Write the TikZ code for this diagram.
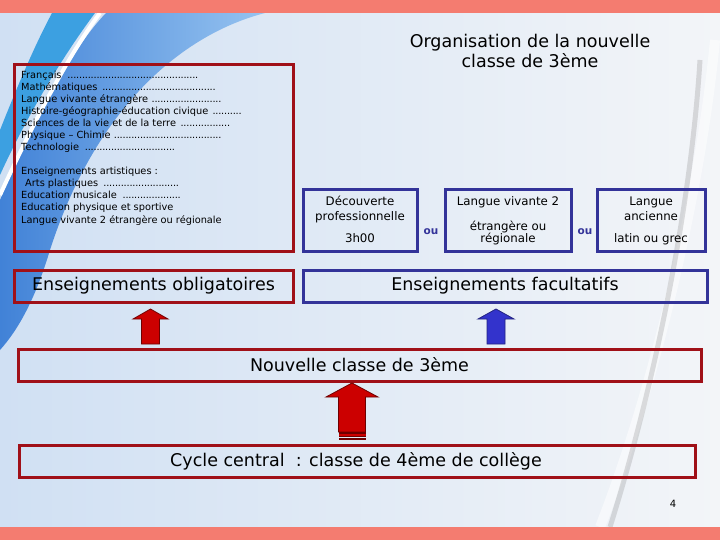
\documentclass[tikz,border=0pt]{standalone}
\usepackage{fontspec}
\setmainfont{DejaVu Sans}
\definecolor{band}{RGB}{244,124,112}
\definecolor{redb}{RGB}{160,16,24}
\definecolor{blueb}{RGB}{51,51,153}
\definecolor{redfill}{RGB}{204,0,0}
\definecolor{redline}{RGB}{110,0,0}
\definecolor{bluefill}{RGB}{51,51,204}
\definecolor{blueline}{RGB}{35,35,130}
\definecolor{bgA}{RGB}{208,224,243}
\definecolor{bgB}{RGB}{243,245,248}
\definecolor{swA}{RGB}{65,130,215}
\definecolor{swB}{RGB}{150,195,240}
\definecolor{cyanst}{RGB}{60,160,225}
\newcommand\dotline[2]{\makebox[#1pt][l]{#2\leaders\hbox to 2.9pt{\hss.\hss}\hfill}}
\newcommand\blockup[7]{\filldraw[#1] (#2,#3) -- (#2+#6,#4) -- (#2+#7,#4) -- (#2+#7,#5) -- (#2-#7,#5) -- (#2-#7,#4) -- (#2-#6,#4) -- cycle;}
\begin{document}
\begin{tikzpicture}[x=1pt,y=-1pt,
  redbox/.style={draw=redb, line width=3pt, inner sep=0pt},
  bluebox/.style={draw=blueb, line width=3pt, inner sep=0pt},
  listtxt/.style={anchor=base west, inner sep=0pt, font=\fontsize{9.8}{12}\selectfont},
  bigtxt/.style={inner sep=0pt, font=\fontsize{17.5}{21}\selectfont},
  midtxt/.style={anchor=base, inner sep=0pt, font=\fontsize{11.8}{14}\selectfont},
  outxt/.style={anchor=base, inner sep=0pt, text=blueb, font=\bfseries\fontsize{10.5}{12}\selectfont},
  redarrow/.style={fill=redfill, draw=redline, line width=0.8pt},
  bluearrow/.style={fill=bluefill, draw=blueline, line width=0.8pt}]
\useasboundingbox (0,0) rectangle (720,540);
% background
\shade[left color=bgA, right color=bgB] (0,13) rectangle (720,527);
\fill[cyanst] (52,13) -- (95,13) .. controls (60,60) and (25,120) .. (0,175) -- (0,130) .. controls (20,80) and (35,45) .. (52,13);
\shade[left color=swA, right color=swB] (106,13) -- (265,13) .. controls (180,35) and (95,110) .. (50,250) .. controls (35,300) and (18,330) .. (0,350) -- (0,200) .. controls (30,130) and (70,50) .. (106,13);
\draw[white, line width=4pt] (100,13) .. controls (65,60) and (30,130) .. (0,195);
\draw[white, opacity=0.5, line width=10pt] (715,40) .. controls (700,200) and (650,400) .. (600,527);
\draw[gray, opacity=0.25, line width=5pt] (700,60) .. controls (690,220) and (650,400) .. (610,527);
\fill[band] (0,0) rectangle (720,13);
\fill[band] (0,527) rectangle (720,540);
% title
\node[anchor=base, bigtxt] (title1) at (530,48) {Organisation de la nouvelle};
\node[anchor=base, bigtxt] (title2) at (530,68) {classe de 3ème};
% list box
\node[redbox, minimum width=279pt, minimum height=186pt] (listbox) at (153.5,158) {};
\node[listtxt] (l1) at (21,79) {\dotline{178}{Français }};
\node[listtxt] (l2) at (21,91) {\dotline{197}{Mathématiques }};
\node[listtxt] (l3) at (21,103) {\dotline{201}{Langue vivante étrangère }};
\node[listtxt] (l4) at (21,115) {\dotline{222}{Histoire-géographie-éducation civique }};
\node[listtxt] (l5) at (21,127) {\dotline{210}{Sciences de la vie et de la terre }};
\node[listtxt] (l6) at (21,139) {\dotline{201}{Physique – Chimie }};
\node[listtxt] (l7) at (21,151) {\dotline{156}{Technologie }};
\node[listtxt] (l8) at (21,175) {Enseignements artistiques :};
\node[listtxt] (l9) at (25,187) {\dotline{155}{Arts plastiques }};
\node[listtxt] (l10) at (21,199) {\dotline{161}{Education musicale }};
\node[listtxt] (l11) at (21,211) {Education physique et sportive};
\node[listtxt] (l12) at (21,223) {Langue vivante 2 étrangère ou régionale};
% option boxes
\node[bluebox, minimum width=114pt, minimum height=61pt] (opt1) at (360,220.5) {};
\node[bluebox, minimum width=126pt, minimum height=61pt] (opt2) at (508,220.5) {};
\node[bluebox, minimum width=108pt, minimum height=61pt] (opt3) at (651,220.5) {};
\node[midtxt] (o1a) at (360,206) {Découverte};
\node[midtxt] (o1b) at (360,221) {professionnelle};
\node[midtxt] (o1c) at (360,243) {3h00};
\node[midtxt] (o2a) at (508,206) {Langue vivante 2};
\node[midtxt] (o2b) at (508,230) {étrangère ou};
\node[midtxt] (o2c) at (508,243) {régionale};
\node[midtxt] (o3a) at (651,206) {Langue};
\node[midtxt] (o3b) at (651,221) {ancienne};
\node[midtxt] (o3c) at (651,243) {latin ou grec};
\node[outxt] (ou1) at (431,235) {ou};
\node[outxt] (ou2) at (585,235) {ou};
% category boxes
\node[redbox, minimum width=279pt, minimum height=32pt, bigtxt] (oblig) at (153.5,286) {Enseignements obligatoires};
\node[bluebox, minimum width=404pt, minimum height=32pt, bigtxt] (facult) at (505,286) {Enseignements facultatifs};
\node[redbox, minimum width=683pt, minimum height=32pt, bigtxt] (nouvelle) at (359.5,365) {Nouvelle classe de 3ème};
\node[redbox, minimum width=676pt, minimum height=32pt] (cycle) at (357,461) {};
\node[anchor=base, bigtxt] (cycletxt) at (356,466) {Cycle central \ : classe de 4ème de collège};
% arrows
\blockup{redarrow}{150.5}{309}{319}{344}{17.5}{9}
\blockup{bluearrow}{496}{309}{319}{344}{18}{9}
\blockup{redarrow}{352}{383}{397}{432}{26}{13.5}
\fill[redline] (338.5,432) rectangle (365.5,434);
\fill[redfill] (338.5,434) rectangle (365.5,435.7);
\fill[redline] (338.5,435.7) rectangle (365.5,436.8);
\fill[redline] (338.5,438.2) rectangle (365.5,440.2);
% page number
\node[anchor=base, inner sep=0pt, font=\fontsize{10}{12}\selectfont] (pnum) at (673,507) {4};
\end{tikzpicture}
\end{document}
